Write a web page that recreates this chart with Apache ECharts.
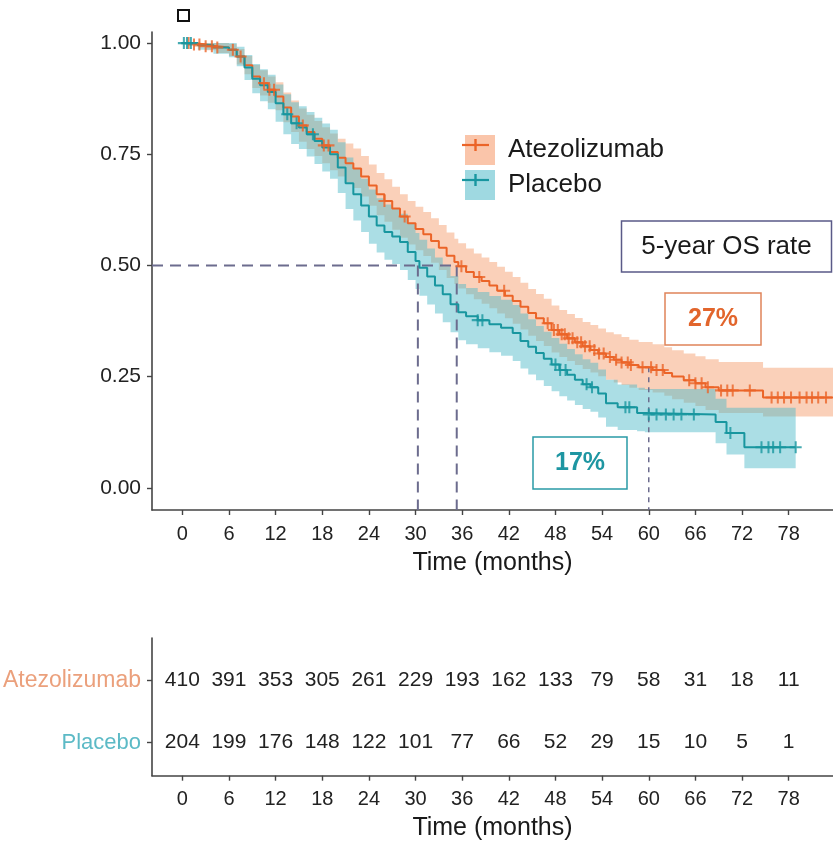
<!DOCTYPE html>
<html>
<head>
<meta charset="utf-8">
<script src="https://cdn.jsdelivr.net/npm/echarts@6/dist/echarts.min.js"></script>
<style>html,body{margin:0;padding:0;background:#fff;}#chart{width:833px;height:842px;}</style>
</head>
<body>
<div id="chart"></div>
<script>
// ---------- data ----------
const atezoTimes = [0,1.5,3,4.5,6,7,8,9,10,11,12,13,14,15,16,17,18,19,20,21,22,23,24,25,26,27,28,29,30,31,32,33,34,35,35.5,36.5,37.5,38.5,39.5,40.5,41.5,42.5,43.5,44.5,45.5,46.5,47.5,48.5,49.5,50.5,51.5,52.5,53.5,54.5,55.5,56.5,57.5,58.7,60.5,62,63,64.5,66,67.3,69,74.7,83.7];
const atezoSurv  = [1,0.997,0.993,0.99,0.985,0.97,0.95,0.925,0.91,0.895,0.88,0.855,0.835,0.815,0.8,0.785,0.77,0.755,0.742,0.73,0.718,0.7,0.68,0.66,0.645,0.628,0.61,0.595,0.582,0.57,0.555,0.54,0.522,0.508,0.498,0.485,0.474,0.465,0.455,0.443,0.432,0.42,0.407,0.393,0.381,0.37,0.355,0.345,0.336,0.327,0.318,0.31,0.302,0.294,0.288,0.282,0.276,0.271,0.265,0.258,0.25,0.242,0.235,0.226,0.219,0.203,0.203];
const atezoLower = [1,0.991,0.984,0.978,0.971,0.952,0.93,0.899,0.882,0.866,0.849,0.822,0.8,0.778,0.762,0.746,0.73,0.714,0.7,0.687,0.674,0.655,0.634,0.613,0.598,0.58,0.562,0.547,0.534,0.521,0.506,0.49,0.472,0.458,0.448,0.435,0.424,0.414,0.404,0.392,0.381,0.369,0.356,0.342,0.33,0.319,0.304,0.294,0.285,0.276,0.267,0.259,0.251,0.243,0.237,0.231,0.225,0.22,0.214,0.207,0.199,0.191,0.184,0.175,0.168,0.16,0.16];
const atezoUpper = [1,1,1,1,0.998,0.987,0.971,0.951,0.939,0.925,0.912,0.889,0.871,0.853,0.839,0.825,0.811,0.797,0.785,0.774,0.763,0.746,0.727,0.708,0.694,0.677,0.66,0.645,0.632,0.62,0.606,0.591,0.574,0.56,0.55,0.538,0.527,0.518,0.508,0.497,0.486,0.474,0.461,0.447,0.436,0.425,0.41,0.4,0.391,0.382,0.373,0.366,0.358,0.35,0.345,0.339,0.333,0.328,0.323,0.316,0.309,0.302,0.296,0.289,0.283,0.27,0.27];
const atezoCensor = [0.8,1.5,2.2,3,3.8,4.5,6.5,7.5,10.5,11.2,11.8,15.5,18.2,18.8,26,28.6,35.9,38.2,41.4,47,47.8,48.3,48.8,49.2,49.7,50.2,50.8,51.3,51.8,52.4,53,53.6,54.2,55,55.8,56.5,57.3,57.7,59.2,60.3,61,61.8,65.2,66,66.8,67.6,69.3,70.1,70.8,73,75.8,76.6,77.4,78.3,79.4,80.3,81,81.8,82.8];

const placeboTimes = [0,2,4,6,7,8,9,10,11,12,13,14,15,16,17,18,19,20,21,22,23,24,25,26,27,28,29,30,30.5,31.5,32.5,33.5,34.5,35.5,36.5,38,39.5,41,42.5,43.5,44.5,45.5,46.5,47.5,48.5,49.5,50.5,51.5,52.5,53.5,54.5,56,58.5,59.5,68.6,70,72.3,78.9];
const placeboSurv  = [1,0.995,0.99,0.985,0.97,0.945,0.92,0.905,0.89,0.865,0.84,0.82,0.81,0.795,0.78,0.765,0.75,0.72,0.685,0.66,0.635,0.61,0.59,0.575,0.565,0.553,0.53,0.51,0.495,0.475,0.455,0.435,0.413,0.395,0.386,0.377,0.368,0.36,0.348,0.33,0.317,0.303,0.29,0.277,0.265,0.254,0.243,0.233,0.226,0.212,0.19,0.181,0.168,0.165,0.148,0.123,0.091,0.091];
const placeboLower = [1,0.985,0.976,0.968,0.948,0.917,0.887,0.869,0.851,0.823,0.795,0.773,0.762,0.745,0.728,0.711,0.695,0.663,0.627,0.601,0.575,0.549,0.529,0.513,0.503,0.49,0.467,0.447,0.432,0.412,0.392,0.372,0.35,0.332,0.323,0.314,0.305,0.297,0.285,0.268,0.255,0.242,0.229,0.217,0.206,0.196,0.186,0.177,0.171,0.158,0.137,0.13,0.127,0.125,0.1,0.075,0.044,0.044];
const placeboUpper = [1,1,1,1,0.992,0.973,0.953,0.941,0.929,0.907,0.885,0.867,0.858,0.845,0.832,0.819,0.805,0.777,0.743,0.719,0.695,0.671,0.651,0.637,0.627,0.616,0.593,0.573,0.558,0.538,0.518,0.498,0.476,0.458,0.449,0.44,0.431,0.423,0.411,0.392,0.379,0.364,0.351,0.337,0.324,0.312,0.3,0.289,0.281,0.266,0.243,0.232,0.225,0.222,0.2,0.18,0.18,0.18];
const placeboCensor = [0.2,0.6,1.1,13.5,14.7,16.8,38,38.6,48,48.6,49.3,52,52.7,57,57.5,60,61,62.2,63.2,64.2,65.8,70.5,74.5,75.4,76,76.9,78.9];

const medianTimes = [30.3, 35.3];   // placebo, atezolizumab
const medianLevel = 0.5;
const fiveYearTime = 60;
const fiveYearAtezo = 0.271;

const tickTimes = [0,6,12,18,24,30,36,42,48,54,60,66,72,78];
const survTicks = [0,0.25,0.5,0.75,1];
const riskAtezo   = [410,391,353,305,261,229,193,162,133,79,58,31,18,11];
const riskPlacebo = [204,199,176,148,122,101,77,66,52,29,15,10,5,1];
const armNames = ['Atezolizumab','Placebo'];

// ---------- style ----------
const ORANGE = '#EB6428';
const TEAL = '#18969F';
const ORANGE_BAND = 'rgba(245,150,100,0.45)';
const TEAL_BAND = 'rgba(80,185,200,0.48)';
const DASH = '#6C6C8E';
const FONT = 'Liberation Sans, Arial, sans-serif';
const TXT = '#222';

function survAt(times, surv, t) {
  let v = surv[0];
  for (let i = 0; i < times.length; i++) { if (times[i] <= t) v = surv[i]; else break; }
  return v;
}
function bandRender(times, lo, hi, fill) {
  return function (params, api) {
    const pts = [];
    for (let i = 0; i < times.length; i++) {
      pts.push(api.coord([times[i], hi[i]]));
      if (i + 1 < times.length) pts.push(api.coord([times[i + 1], hi[i]]));
    }
    for (let i = times.length - 1; i >= 0; i--) {
      if (i + 1 < times.length) pts.push(api.coord([times[i + 1], lo[i]]));
      pts.push(api.coord([times[i], lo[i]]));
    }
    return { type: 'polygon', shape: { points: pts }, style: { fill: fill } };
  };
}
const zip = (a, b) => a.map((v, i) => [v, b[i]]);
const PLUS = 'path://M-1,-0.17H1V0.17H-1Z M-0.17,-1H0.17V1H-0.17Z';

const xMin = -3.9, xMax = 83.7;
function xAxisCfg(gridIndex) {
  return {
    type: 'value', gridIndex: gridIndex, min: xMin, max: xMax,
    name: 'Time (months)', nameLocation: 'middle', nameGap: gridIndex === 0 ? 41 : 40,
    nameTextStyle: { fontSize: 25, color: '#1a1a1a', fontFamily: FONT },
    axisLine: { show: true, onZero: false, lineStyle: { color: '#444', width: 1.6 } },
    axisTick: { show: true, length: 5, lineStyle: { color: '#444', width: 1.4 }, customValues: tickTimes },
    axisLabel: { fontSize: 20, color: TXT, margin: 14, fontFamily: FONT, customValues: tickTimes },
    splitLine: { show: false }
  };
}
function riskLabel() {
  return { show: true, position: 'inside', fontSize: 21, color: TXT, opacity: 1, textBorderWidth: 0,
    fontFamily: FONT, formatter: p => String(p.data[2]) };
}

const chart = echarts.init(document.getElementById('chart'), null, { renderer: 'canvas' });
const option = {
  backgroundColor: '#fff',
  animation: false,
  textStyle: { fontFamily: FONT },
  grid: [
    { left: 152, top: 32, width: 681, height: 478, containLabel: false, outerBoundsMode: 'none' },
    { left: 152, top: 638, width: 681, height: 137.7, containLabel: false, outerBoundsMode: 'none' }
  ],
  xAxis: [xAxisCfg(0), xAxisCfg(1)],
  yAxis: [
    {
      type: 'value', gridIndex: 0, min: -0.05, max: 1.025,
      axisLine: { show: true, onZero: false, lineStyle: { color: '#444', width: 1.6 } },
      axisTick: { show: true, length: 5, lineStyle: { color: '#444', width: 1.4 }, customValues: survTicks },
      axisLabel: { fontSize: 21, color: TXT, margin: 11, fontFamily: FONT, customValues: survTicks,
        formatter: v => Number(v).toFixed(2) },
      splitLine: { show: false }
    },
    {
      type: 'value', gridIndex: 1, min: -0.532, max: 1.677,
      axisLine: { show: true, onZero: false, lineStyle: { color: '#444', width: 1.6 } },
      axisTick: { show: true, length: 5, lineStyle: { color: '#444', width: 1.4 }, customValues: [0, 1] },
      axisLabel: { fontSize: 22, margin: 11, fontFamily: FONT, customValues: [0, 1],
        formatter: v => Number(v) === 1 ? '{a|' + armNames[0] + '}' : '{p|' + armNames[1] + '}',
        rich: { a: { color: '#EBA07C', fontSize: 23, fontFamily: FONT }, p: { color: '#5CBAC6', fontSize: 22, fontFamily: FONT } } },
      splitLine: { show: false }
    }
  ],
  legend: {
    orient: 'vertical', left: 460, top: 130, itemWidth: 30, itemHeight: 30, itemGap: 5,
    selectedMode: false,
    textStyle: { fontSize: 26, color: '#1a1a1a', fontFamily: FONT, padding: [0, 0, 0, 8] },
    data: [
      { name: armNames[0], icon: 'rect', itemStyle: { color: 'rgba(245,150,100,0.55)' } },
      { name: armNames[1], icon: 'rect', itemStyle: { color: 'rgba(80,185,200,0.55)' } }
    ]
  },
  series: [
    { type: 'custom', name: armNames[0], xAxisIndex: 0, yAxisIndex: 0, clip: true, silent: true, z: 1,
      itemStyle: { color: ORANGE_BAND },
      renderItem: bandRender(atezoTimes, atezoLower, atezoUpper, ORANGE_BAND), data: [[0, 1]] },
    { type: 'custom', name: armNames[1], xAxisIndex: 0, yAxisIndex: 0, clip: true, silent: true, z: 1,
      itemStyle: { color: TEAL_BAND },
      renderItem: bandRender(placeboTimes, placeboLower, placeboUpper, TEAL_BAND), data: [[0, 1]] },
    // reference dashed lines
    { type: 'line', xAxisIndex: 0, yAxisIndex: 0, silent: true, z: 2, symbol: 'none',
      lineStyle: { color: DASH, width: 2, type: [11, 7] },
      data: [[xMin, medianLevel], [medianTimes[1], medianLevel]] },
    { type: 'line', xAxisIndex: 0, yAxisIndex: 0, silent: true, z: 2, symbol: 'none',
      lineStyle: { color: DASH, width: 2, type: [11, 7] },
      data: [[medianTimes[0], medianLevel], [medianTimes[0], -0.05]] },
    { type: 'line', xAxisIndex: 0, yAxisIndex: 0, silent: true, z: 2, symbol: 'none',
      lineStyle: { color: DASH, width: 2, type: [11, 7] },
      data: [[medianTimes[1], medianLevel], [medianTimes[1], -0.05]] },
    { type: 'line', xAxisIndex: 0, yAxisIndex: 0, silent: true, z: 2, symbol: 'none',
      lineStyle: { color: DASH, width: 1.5, type: [5, 5] },
      data: [[fiveYearTime, fiveYearAtezo], [fiveYearTime, -0.05]] },
    // KM curves
    { type: 'line', name: armNames[0], xAxisIndex: 0, yAxisIndex: 0, step: 'end', showSymbol: false, symbol: 'none', z: 3,
      lineStyle: { color: ORANGE, width: 2 }, itemStyle: { color: ORANGE }, data: zip(atezoTimes, atezoSurv) },
    { type: 'line', name: armNames[1], xAxisIndex: 0, yAxisIndex: 0, step: 'end', showSymbol: false, symbol: 'none', z: 3,
      lineStyle: { color: TEAL, width: 2 }, itemStyle: { color: TEAL }, data: zip(placeboTimes, placeboSurv) },
    // censor marks
    { type: 'scatter', xAxisIndex: 0, yAxisIndex: 0, symbol: PLUS, symbolSize: 12, z: 4, silent: true,
      itemStyle: { color: ORANGE }, data: atezoCensor.map(t => [t, survAt(atezoTimes, atezoSurv, t)]) },
    { type: 'scatter', xAxisIndex: 0, yAxisIndex: 0, symbol: PLUS, symbolSize: 12, z: 4, silent: true,
      itemStyle: { color: TEAL }, data: placeboCensor.map(t => [t, survAt(placeboTimes, placeboSurv, t)]) },
    // risk table
    { type: 'scatter', xAxisIndex: 1, yAxisIndex: 1, symbolSize: 1, silent: true,
      itemStyle: { color: '#fff' }, label: riskLabel(),
      data: tickTimes.map((t, i) => [t, 1, riskAtezo[i]]) },
    { type: 'scatter', xAxisIndex: 1, yAxisIndex: 1, symbolSize: 1, silent: true,
      itemStyle: { color: '#fff' }, label: riskLabel(),
      data: tickTimes.map((t, i) => [t, 0, riskPlacebo[i]]) }
  ],
  graphic: [
    { type: 'rect', left: 177, top: 9, shape: { width: 11, height: 11 }, style: { fill: '#fff', stroke: '#111', lineWidth: 2 }, z: 100 },
    // legend key overlays
    { type: 'line', shape: { x1: 462, y1: 145, x2: 489, y2: 145 }, style: { stroke: ORANGE, lineWidth: 2.2 }, z: 100 },
    { type: 'line', shape: { x1: 475.5, y1: 139, x2: 475.5, y2: 151 }, style: { stroke: ORANGE, lineWidth: 2.4 }, z: 100 },
    { type: 'line', shape: { x1: 462, y1: 180, x2: 489, y2: 180 }, style: { stroke: TEAL, lineWidth: 2.2 }, z: 100 },
    { type: 'line', shape: { x1: 475.5, y1: 174, x2: 475.5, y2: 186 }, style: { stroke: TEAL, lineWidth: 2.4 }, z: 100 },
    // annotation boxes
    { type: 'rect', shape: { x: 621.5, y: 221, width: 210, height: 51 }, style: { fill: '#fff', stroke: '#5A5A88', lineWidth: 1.5 }, z: 100 },
    { type: 'text', x: 726.5, y: 246.5, style: { text: '5-year OS rate', fill: '#1a1a1a', font: '26px ' + FONT, align: 'center', verticalAlign: 'middle' }, z: 101 },
    { type: 'rect', shape: { x: 665, y: 293, width: 96, height: 52 }, style: { fill: '#fff', stroke: '#E0845A', lineWidth: 1.5 }, z: 100 },
    { type: 'text', x: 713, y: 319, style: { text: '27%', fill: '#E2652C', font: 'bold 25px ' + FONT, align: 'center', verticalAlign: 'middle' }, z: 101 },
    { type: 'rect', shape: { x: 533, y: 437, width: 94, height: 52 }, style: { fill: '#fff', stroke: '#2A9AA6', lineWidth: 1.5 }, z: 100 },
    { type: 'text', x: 580, y: 463, style: { text: '17%', fill: '#1E96A2', font: 'bold 25px ' + FONT, align: 'center', verticalAlign: 'middle' }, z: 101 }
  ]
};
chart.setOption(option);
</script>
</body>
</html>
